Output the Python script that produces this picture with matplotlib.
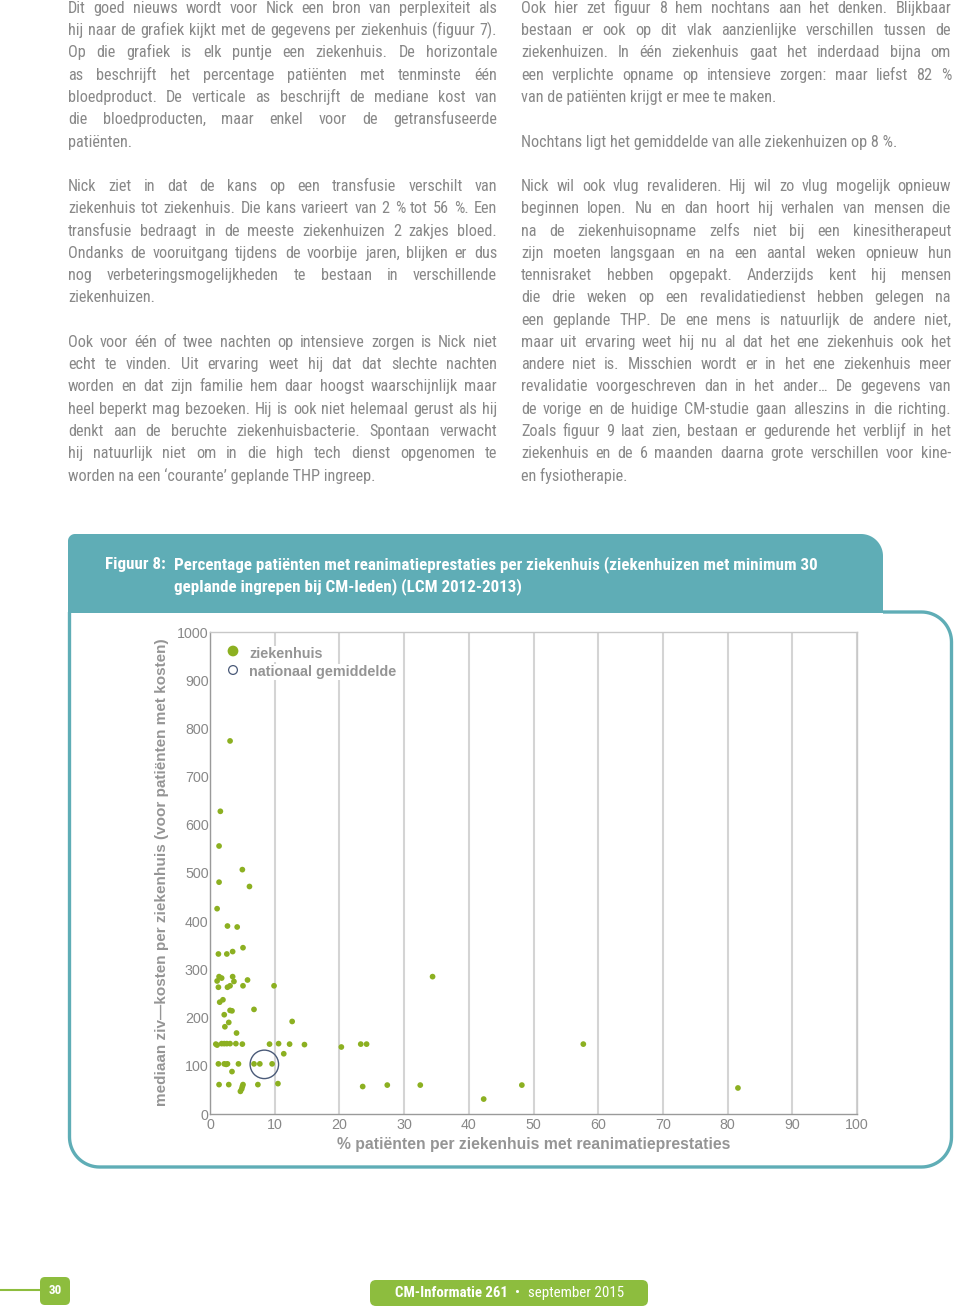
import numpy as np
import matplotlib
matplotlib.use('Agg')
import matplotlib.pyplot as plt
from matplotlib import font_manager
from matplotlib.font_manager import FontProperties
from matplotlib.path import Path
from matplotlib.patches import PathPatch, FancyBboxPatch

# ---------------- data ----------------
pct_patients = [3.1, 1.6, 1.4, 5.0, 1.4, 6.1, 1.1, 2.7, 4.2, 1.3, 2.6, 3.5, 5.1,
                1.4, 1.8, 1.1, 1.3, 2.7, 3.1, 3.5, 3.7, 5.1, 5.8, 9.9, 2.0, 1.5,
                2.2, 2.9, 2.3, 3.1, 3.4, 6.8, 4.1, 12.7,
                0.9, 1.1, 1.8, 2.2, 2.6, 3.1, 4.0, 5.0, 9.2, 10.6, 12.3, 14.6, 20.3,
                23.3, 24.2, 57.7, 34.4, 11.4,
                1.3, 2.2, 2.5, 2.7, 4.4, 6.8, 7.7, 9.6, 3.4,
                1.4, 2.9, 5.1, 5.0, 4.9, 4.7, 7.4, 10.5,
                23.6, 27.4, 32.5, 42.3, 48.2, 81.6]
median_cost = [774, 628, 556, 507, 481, 472, 426, 390, 388, 332, 332, 337, 345,
               285, 282, 276, 263, 263, 266, 285, 275, 266, 278, 266, 237, 232,
               206, 190, 181, 215, 214, 217, 168, 192,
               145, 143, 146, 146, 146, 146, 146, 145, 145, 146, 145, 144, 139,
               145, 145, 145, 285, 125,
               104, 104, 103, 104, 104, 104, 104, 104, 88,
               61, 61, 61, 57, 52, 47, 61, 63,
               57, 60, 60, 31, 60, 54]
national_pct = [8.4]
national_cost = [103]
x_ticks = list(range(0, 101, 10))
y_ticks = list(range(0, 1001, 100))

left_col = [
    (0, "Dit goed nieuws wordt voor Nick een bron van perplexiteit als", True),
    (1, "hij naar de grafiek kijkt met de gegevens per ziekenhuis (figuur 7).", True),
    (2, "Op die grafiek is elk puntje een ziekenhuis. De horizontale", True),
    (3, "as beschrijft het percentage patiënten met tenminste één", True),
    (4, "bloedproduct. De verticale as beschrijft de mediane kost van", True),
    (5, "die bloedproducten, maar enkel voor de getransfuseerde", True),
    (6, "patiënten.", False),
    (8, "Nick ziet in dat de kans op een transfusie verschilt van", True),
    (9, "ziekenhuis tot ziekenhuis. Die kans varieert van 2 % tot 56 %. Een", True),
    (10, "transfusie bedraagt in de meeste ziekenhuizen 2 zakjes bloed.", True),
    (11, "Ondanks de vooruitgang tijdens de voorbije jaren, blijken er dus", True),
    (12, "nog verbeteringsmogelijkheden te bestaan in verschillende", True),
    (13, "ziekenhuizen.", False),
    (15, "Ook voor één of twee nachten op intensieve zorgen is Nick niet", True),
    (16, "echt te vinden. Uit ervaring weet hij dat dat slechte nachten", True),
    (17, "worden en dat zijn familie hem daar hoogst waarschijnlijk maar", True),
    (18, "heel beperkt mag bezoeken. Hij is ook niet helemaal gerust als hij", True),
    (19, "denkt aan de beruchte ziekenhuisbacterie. Spontaan verwacht", True),
    (20, "hij natuurlijk niet om in die high tech dienst opgenomen te", True),
    (21, "worden na een ‘courante’ geplande THP ingreep.", False),
]
right_col = [
    (0, "Ook hier zet figuur 8 hem nochtans aan het denken. Blijkbaar", True),
    (1, "bestaan er ook op dit vlak aanzienlijke verschillen tussen de", True),
    (2, "ziekenhuizen. In één ziekenhuis gaat het inderdaad bijna om", True),
    (3, "een verplichte opname op intensieve zorgen: maar liefst 82 %", True),
    (4, "van de patiënten krijgt er mee te maken.", False),
    (6, "Nochtans ligt het gemiddelde van alle ziekenhuizen op 8 %.", False),
    (8, "Nick wil ook vlug revalideren. Hij wil zo vlug mogelijk opnieuw", True),
    (9, "beginnen lopen. Nu en dan hoort hij verhalen van mensen die", True),
    (10, "na de ziekenhuisopname zelfs niet bij een kinesitherapeut", True),
    (11, "zijn moeten langsgaan en na een aantal weken opnieuw hun", True),
    (12, "tennisraket hebben opgepakt. Anderzijds kent hij mensen", True),
    (13, "die drie weken op een revalidatiedienst hebben gelegen na", True),
    (14, "een geplande THP. De ene mens is natuurlijk de andere niet,", True),
    (15, "maar uit ervaring weet hij nu al dat het ene ziekenhuis ook het", True),
    (16, "andere niet is. Misschien wordt er in het ene ziekenhuis meer", True),
    (17, "revalidatie voorgeschreven dan in het ander… De gegevens van", True),
    (18, "de vorige en de huidige CM-studie gaan alleszins in die richting.", True),
    (19, "Zoals figuur 9 laat zien, bestaan er gedurende het verblijf in het", True),
    (20, "ziekenhuis en de 6 maanden daarna grote verschillen voor kine-", True),
    (21, "en fysiotherapie.", False),
]
fig_label = "Figuur 8:"
fig_title = ["Percentage patiënten met reanimatieprestaties per ziekenhuis (ziekenhuizen met minimum 30",
             "geplande ingrepen bij CM-leden) (LCM 2012-2013)"]
x_label = "% patiënten per ziekenhuis met reanimatieprestaties"
y_label = "mediaan ziv—kosten per ziekenhuis (voor patiënten met kosten)"
legend_labels = ["ziekenhuis", "nationaal gemiddelde"]
page_no = "30"
footer_bold = "CM-Informatie 261"
footer_reg = "september 2015"

# ---------------- styles ----------------
TXT = '#888888'
TEAL = '#5fadb6'
GREEN_PAGE = '#8dbd3e'
DOT = '#8cb021'
AXGRAY = '#9a9a9a'
GRID = '#d4d4d4'
LBL = '#959595'

W, H = 960, 1308
fig = plt.figure(figsize=(W / 100, H / 100), dpi=100)
ov = fig.add_axes([0, 0, 1, 1])
ov.set_xlim(0, W)
ov.set_ylim(H, 0)
ov.axis('off')
renderer = fig.canvas.get_renderer()

names = {f.name for f in font_manager.fontManager.ttflist}
cond = None
for n in ['Liberation Sans Narrow', 'Roboto Condensed', 'Noto Sans Condensed',
          'Open Sans Condensed', 'DejaVu Sans Condensed']:
    if n in names:
        cond = n
        break
arial = 'Liberation Sans' if 'Liberation Sans' in names else 'DejaVu Sans'


def pt(px):
    return px * 72.0 / 100.0


def cfp(px, weight='normal'):
    if cond:
        return FontProperties(family=cond, size=pt(px), weight=weight)
    return FontProperties(family='DejaVu Sans', stretch='condensed', size=pt(px), weight=weight)


def afp(px, weight='normal'):
    return FontProperties(family=arial, size=pt(px), weight=weight)


def measure(s, fp):
    w, h, d = renderer.get_text_width_height_descent(s, fp, ismath=False)
    return w


def fit(s, target_w, maker, weight='normal', start=15.0):
    fp = maker(start, weight)
    w = measure(s, fp)
    return maker(start * target_w / w, weight)


def draw_line(text, x0, x1, base, px, justify):
    fp = cfp(px)
    words = text.split(' ')
    if not justify or len(words) == 1:
        ov.text(x0, base, text, fontproperties=fp, color=TXT, va='baseline', ha='left')
        return
    ws = [measure(w, fp) for w in words]
    n = len(words) - 1
    gap = (x1 - x0 - sum(ws)) / n
    if gap < 3.0:
        px2 = px * (x1 - x0 - 3.0 * n) / sum(ws)
        fp = cfp(px2)
        ws = [measure(w, fp) for w in words]
        gap = (x1 - x0 - sum(ws)) / n
    x = x0
    for w, ww in zip(words, ws):
        ov.text(x, base, w, fontproperties=fp, color=TXT, va='baseline', ha='left')
        x += ww + gap


BODY_PX = 16.3
for idx, t, j in left_col:
    draw_line(t, 68, 497, 12.9 + 22.27 * idx, BODY_PX, j)
for idx, t, j in right_col:
    draw_line(t, 521, 951, 12.9 + 22.27 * idx, BODY_PX, j)


# ---------------- panel shapes ----------------
def arc(cx, cy, r, a0, a1, n=20):
    a = np.radians(np.linspace(a0, a1, n))
    return list(zip(cx + r * np.cos(a), cy + r * np.sin(a)))


r1, r2 = 7, 22
hx0, hy0, hx1, hy1 = 68, 534, 883, 613
pts = [(hx0, hy1), (hx0, hy0 + r1)]
pts += arc(hx0 + r1, hy0 + r1, r1, 180, 270)
pts += [(hx1 - r2, hy0)]
pts += arc(hx1 - r2, hy0 + r2, r2, 270, 360)
pts += [(hx1, hy1), (hx0, hy1)]
ov.add_patch(PathPatch(Path(pts), facecolor=TEAL, edgecolor='none', zorder=1))

R = 30
bx0, by0, bx1, by1 = 69.5, 612, 951.5, 1167
pts = [(883, by0), (bx1 - R, by0)]
pts += arc(bx1 - R, by0 + R, R, 270, 360)
pts += [(bx1, by1 - R)]
pts += arc(bx1 - R, by1 - R, R, 0, 90)
pts += [(bx0 + R, by1)]
pts += arc(bx0 + R, by1 - R, R, 90, 180)
pts += [(bx0, by0)]
ov.add_patch(PathPatch(Path(pts), facecolor='none', edgecolor=TEAL, lw=2.4,
                       capstyle='butt', joinstyle='round', zorder=1))

hfp = fit(fig_title[0], 648, cfp, 'bold')
ov.text(105, 569, fig_label, fontproperties=hfp, color='white', va='baseline', ha='left', zorder=2)
ov.text(174, 569, fig_title[0], fontproperties=hfp, color='white', va='baseline', ha='left', zorder=2)
ov.text(174, 591, fig_title[1], fontproperties=hfp, color='white', va='baseline', ha='left', zorder=2)

# ---------------- chart ----------------
ax = fig.add_axes([210 / W, (H - 1114) / H, 647 / W, 482 / H])
ax.set_facecolor('none')
ax.set_xlim(0, 100)
ax.set_ylim(0, 1000)
ax.set_xticks(x_ticks)
ax.set_yticks(y_ticks)
ax.set_xticklabels([str(v) for v in x_ticks])
ax.set_yticklabels([str(v) for v in y_ticks])
tfp = afp(14.2)
for lab in ax.get_xticklabels() + ax.get_yticklabels():
    lab.set_fontproperties(tfp)
    lab.set_color(TXT)
ax.tick_params(length=0, pad=1)
ax.tick_params(axis='x', pad=3)
ax.xaxis.grid(True, color=GRID, lw=1.5)
ax.yaxis.grid(False)
ax.set_axisbelow(True)
for s in ['left', 'bottom']:
    ax.spines[s].set_color(AXGRAY)
    ax.spines[s].set_linewidth(1.0)
for s in ['top', 'right']:
    ax.spines[s].set_color('#c8c8c8')
    ax.spines[s].set_linewidth(1.0)

ax.scatter(pct_patients, median_cost, s=17, color=DOT, edgecolors='none', zorder=3)
ax.scatter(national_pct, national_cost, s=420, facecolors='none', edgecolors='#4a5a78',
           linewidths=1.0, zorder=4)

xfp = fit(x_label, 395, afp, 'bold', 16)
ov.text(534, 1144, x_label, fontproperties=xfp, color=LBL, ha='center', va='center', zorder=2)
yfp = fit(y_label, 469, afp, 'bold', 16)
ov.text(162, 872, y_label, fontproperties=yfp, color=LBL, ha='center', va='center',
        rotation=90, zorder=2)

# legend (drawn above the chart axes so the text hides the grid line behind it)
lax = fig.add_axes([0, 0, 1, 1])
lax.set_xlim(0, W)
lax.set_ylim(H, 0)
lax.axis('off')
lax.scatter([233], [651], s=60, color=DOT, edgecolors='none', zorder=3)
lax.scatter([233], [670], s=40, facecolors='none', edgecolors='#4a5a78', linewidths=0.9, zorder=3)
lfp = fit(legend_labels[1], 147, afp, 'bold', 15)
for yy, lab in zip([654, 672], legend_labels):
    lax.text(249, yy, lab, fontproperties=lfp, color=LBL, va='center', ha='left', zorder=3,
             bbox=dict(boxstyle='square,pad=0.05', facecolor='white', edgecolor='none'))

# ---------------- footer ----------------
lax.plot([0, 42], [1290, 1290], color=GREEN_PAGE, lw=1.5, solid_capstyle='butt')
lax.add_patch(FancyBboxPatch((40, 1277), 30, 28, boxstyle='round,pad=0,rounding_size=5',
                             facecolor=GREEN_PAGE, edgecolor='none'))
lax.text(55, 1291, page_no, fontproperties=cfp(13, 'bold'), color='white', ha='center', va='center')
lax.add_patch(FancyBboxPatch((370, 1280), 278, 26, boxstyle='round,pad=0,rounding_size=6',
                             facecolor=GREEN_PAGE, edgecolor='none'))
ffp_b = fit(footer_bold, 113, cfp, 'bold', 15)
ffp_r = fit(footer_reg, 96, cfp, 'normal', 15)
lax.text(395, 1293, footer_bold, fontproperties=ffp_b, color='white', ha='left', va='center')
lax.text(518, 1293, '•', fontproperties=ffp_r, color='white', ha='center', va='center')
lax.text(528, 1293, footer_reg, fontproperties=ffp_r, color='white', ha='left', va='center')

fig.savefig('out.png', dpi=100)
